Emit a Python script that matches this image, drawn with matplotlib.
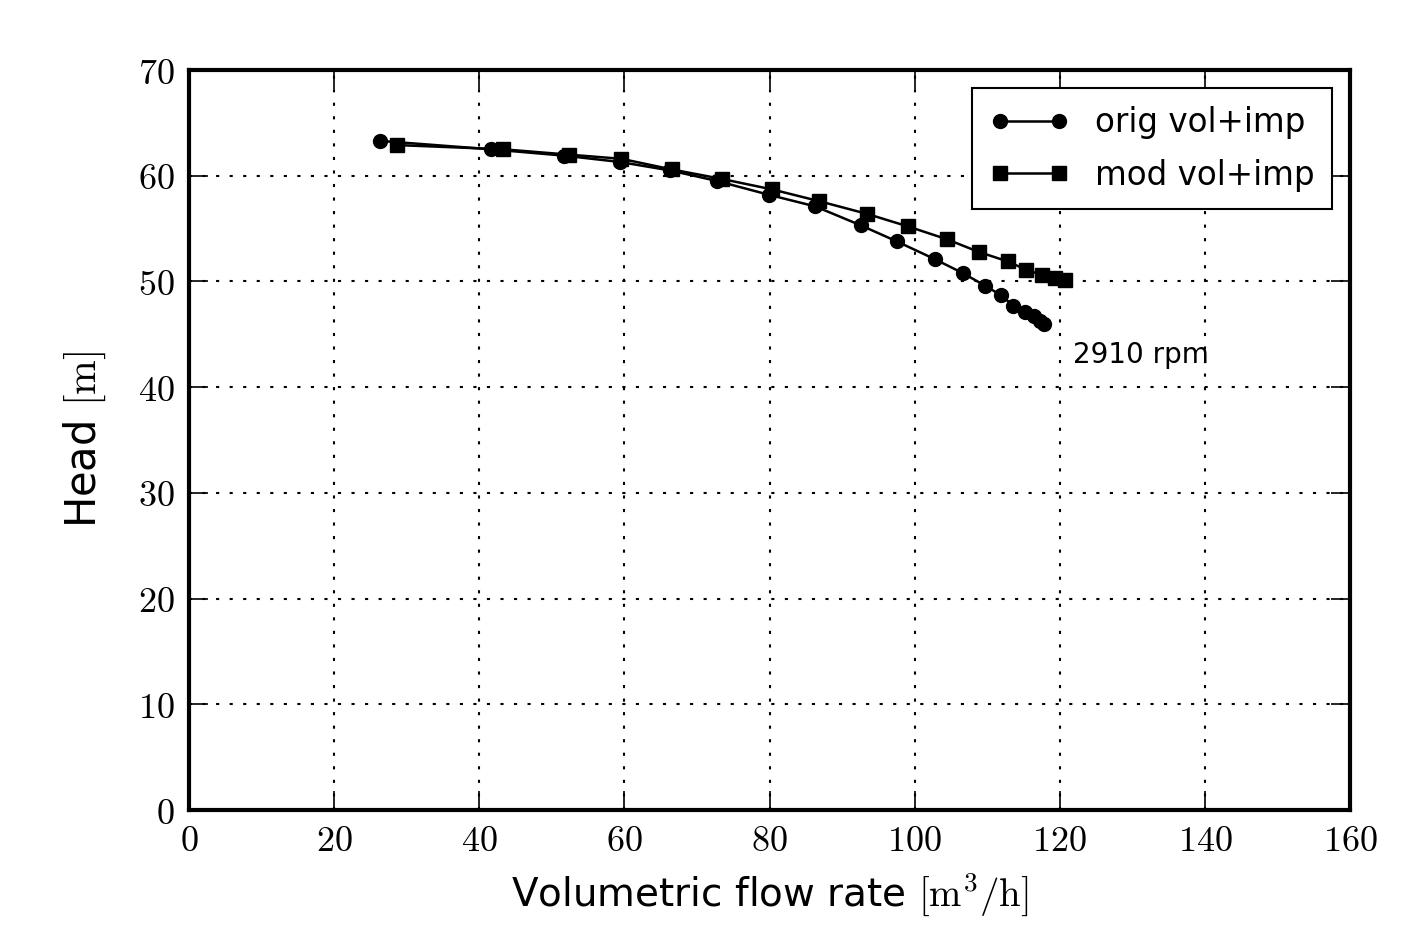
import numpy as np
import matplotlib
matplotlib.use("Agg")
import matplotlib.pyplot as plt
from matplotlib.ticker import FuncFormatter

plt.rcParams['mathtext.fontset'] = 'cm'
plt.rcParams['font.family'] = ['DejaVu Sans']

# orig vol+imp
q_orig = [26.3, 41.6, 51.7, 59.4, 66.3, 72.8, 79.9, 86.3, 92.6, 97.5, 102.8,
          106.6, 109.7, 111.9, 113.6, 115.2, 116.4, 117.3, 117.8]
h_orig = [63.3, 62.5, 61.9, 61.3, 60.5, 59.5, 58.2, 57.1, 55.3, 53.8, 52.1,
          50.8, 49.6, 48.7, 47.7, 47.1, 46.7, 46.3, 46.0]
# mod vol+imp
q_mod = [28.7, 43.3, 52.3, 59.6, 66.5, 73.4, 80.4, 86.8, 93.4, 99.1, 104.4,
         108.8, 112.8, 115.4, 117.6, 119.4, 120.7]
h_mod = [62.9, 62.5, 62.0, 61.6, 60.6, 59.7, 58.7, 57.6, 56.4, 55.2, 54.0,
         52.8, 51.9, 51.1, 50.6, 50.3, 50.1]

xticks = np.arange(0, 161, 20)
yticks = np.arange(0, 71, 10)

fig = plt.figure(figsize=(14.24, 9.25), dpi=100)
ax = fig.add_axes([0.1327, 0.1243, 0.8154, 0.8])

ax.plot(q_orig, h_orig, 'k-', marker='o', ms=10, lw=1.8, label='orig vol+imp')
ax.plot(q_mod, h_mod, 'k-', marker='s', ms=10, lw=1.8, label='mod vol+imp')
ax.text(121.8, 43.0, '2910 rpm', fontsize=20, va='center', ha='left')

ax.set_xlim(0, 160)
ax.set_ylim(0, 70)
ax.set_xticks(xticks)
ax.set_yticks(yticks)
fmt = FuncFormatter(lambda v, p: r'$%d$' % v)
ax.xaxis.set_major_formatter(fmt)
ax.yaxis.set_major_formatter(fmt)
ax.tick_params(direction='in', length=14, width=1.2, labelsize=26,
               top=True, right=True, pad=10)
ax.grid(True, color='k', linestyle=':', lw=1.5, dashes=(1.5, 5))
for s in ax.spines.values():
    s.set_linewidth(3)

ax.set_xlabel(r'Volumetric flow rate $[\mathrm{m}^3/\mathrm{h}]$', fontsize=28, labelpad=9)
ax.set_ylabel(r'Head $[\mathrm{m}]$', fontsize=30, labelpad=22)

leg = ax.legend(loc='upper right', numpoints=2, fontsize=23.5, fancybox=False,
                framealpha=1, edgecolor='k', borderaxespad=0.55,
                handlelength=2.4, borderpad=0.55, labelspacing=0.6)
leg.get_frame().set_linewidth(1.5)

fig.savefig('out.png', dpi=100)
